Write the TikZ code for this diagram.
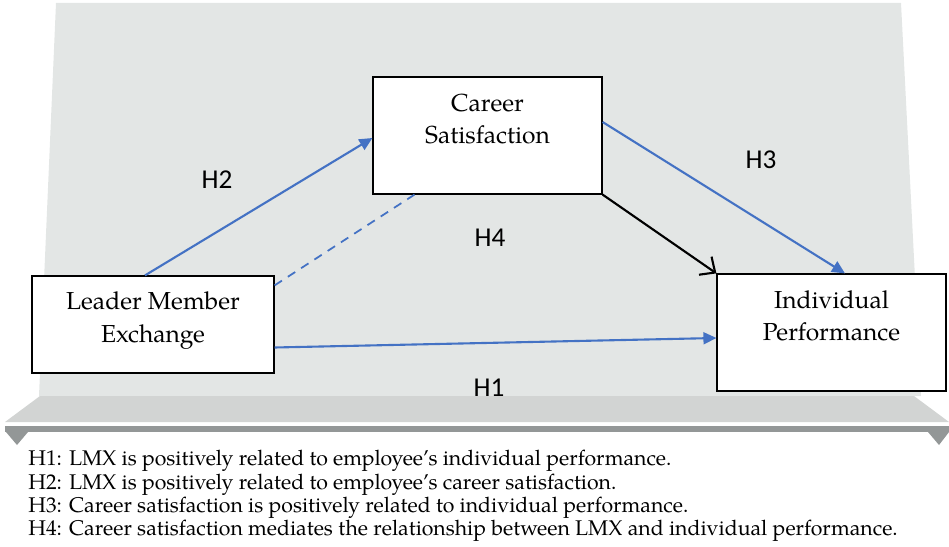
\documentclass[tikz,border=0pt]{standalone}
\usepackage{fontspec}
\setmainfont{TeX Gyre Pagella}
\newfontfamily\hfont{Carlito}
\usepackage{tikz}
\usetikzlibrary{arrows.meta, positioning, calc}

\definecolor{panelgray}{HTML}{E3E6E5}
\definecolor{bandgray}{HTML}{D2D4D3}
\definecolor{bargray}{HTML}{939797}
\definecolor{pathblue}{HTML}{4472C4}

\begin{document}
\begin{tikzpicture}[
    x=0.02cm, y=-0.02cm,
    box/.style={rectangle, draw=black, fill=white, line width=0.7pt, inner sep=0pt},
    boxtext/.style={align=center, font=\fontsize{14}{18.4}\selectfont, inner sep=0pt},
    hyp/.style={font=\hfont\fontsize{15.5}{18}\selectfont, inner sep=0pt},
    path/.style={draw=pathblue, line width=1.2pt, -{Triangle[length=0.26cm, width=0.24cm]}},
    mediate/.style={draw=pathblue, line width=1pt, dashed, dash pattern=on 5pt off 4pt},
    direct/.style={draw=black, line width=1.2pt, -{Straight Barb[length=0.24cm, width=0.44cm]}}
]
\useasboundingbox (0,0) rectangle (949,547);

% backdrop: panel, shelf and rail
\fill[panelgray] (56,3) -- (901,3) -- (921,396) -- (39,396) -- cycle;
\fill[bandgray] (40,396) -- (914,396) -- (949,422) -- (5,422) -- cycle;
\fill[bargray] (5,426) rectangle (949,432);
\fill[bargray] (6,432) -- (28,432) -- (17,445) -- cycle;
\fill[bargray] (928,432) -- (949,432) -- (939,445) -- cycle;

% constructs
\node[box, minimum width=4.58cm, minimum height=2.34cm] (cs) at (487.5,135.5) {};
\node[box, minimum width=4.84cm, minimum height=1.94cm] (lmx) at (153,324.5) {};
\node[box, minimum width=4.58cm, minimum height=2.34cm] (ip) at (831.5,332.5) {};

\node[boxtext] (cs-text) at ($(cs.center)+(0,-16.5)$) {Career\\Satisfaction};
\node[boxtext] (lmx-text) at ($(lmx.center)+(0,-4)$) {Leader Member\\Exchange};
\node[boxtext] (ip-text) at ($(ip.center)+(0,-16.5)$) {Individual\\Performance};

% hypothesised paths
\draw[path] ($(lmx.north)+(-8,0)$) -- ($(cs.west)+(0,2.5)$);          % H2
\draw[path] ($(cs.east)+(0,-13.5)$) -- ($(ip.north)+(13.5,0)$);       % H3
\draw[path] ($(lmx.east)+(0,23)$) -- ($(ip.west)+(0,5.5)$);           % H1
\draw[mediate] ($(lmx.north east)+(0,10)$) -- ($(cs.south)+(-73,0)$); % H4
\draw[direct] (cs.south east) -- (ip.north west);

% path labels
\node[hyp] (h2) at (217,180) {H2};
\node[hyp] (h3) at (761,160) {H3};
\node[hyp] (h4) at (490,238) {H4};
\node[hyp] (h1) at (489,388) {H1};

% hypotheses
\node[anchor=north west, align=left, inner sep=0pt, font=\fontsize{12.1}{13.2}\selectfont] (hyps) at (28,450) {%
    H1: LMX is positively related to employee's individual performance.\\
    H2: LMX is positively related to employee's career satisfaction.\\
    H3: Career satisfaction is positively related to individual performance.\\
    H4: Career satisfaction mediates the relationship between LMX and individual performance.};

\end{tikzpicture}
\end{document}
